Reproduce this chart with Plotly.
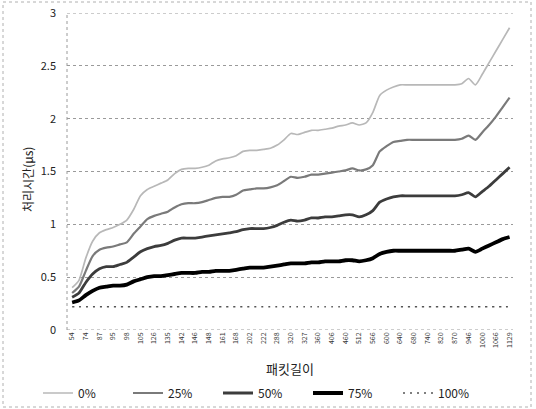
import plotly.graph_objects as go

# Tick labels (packet length) shown on every other sample
tick_labels = ["54", "74", "87", "95", "98", "105", "126", "135", "142", "146", "148",
               "161", "168", "202", "222", "288", "320", "327", "360", "406", "460",
               "512", "566", "600", "640", "680", "740", "820", "870", "946", "1000",
               "1066", "1129"]
n_points = 65
sample_idx = list(range(n_points))

series_names = ["0%", "25%", "50%", "75%", "100%"]

s0 = [0.40, 0.47, 0.68, 0.84, 0.92, 0.95, 0.97, 1.00, 1.04, 1.14, 1.27, 1.33, 1.36,
      1.39, 1.42, 1.48, 1.52, 1.53, 1.53, 1.54, 1.56, 1.60, 1.62, 1.63, 1.65, 1.69,
      1.70, 1.70, 1.71, 1.72, 1.75, 1.80, 1.86, 1.85, 1.87, 1.89, 1.89, 1.90, 1.91,
      1.93, 1.94, 1.96, 1.94, 1.96, 2.06, 2.22, 2.27, 2.30, 2.32, 2.32, 2.32, 2.32,
      2.32, 2.32, 2.32, 2.32, 2.32, 2.33, 2.38, 2.32, 2.42, 2.53, 2.64, 2.75, 2.86]
s25 = [0.35, 0.41, 0.56, 0.70, 0.76, 0.78, 0.79, 0.81, 0.83, 0.91, 0.98, 1.05, 1.08,
       1.10, 1.12, 1.16, 1.19, 1.20, 1.20, 1.21, 1.23, 1.25, 1.26, 1.26, 1.28, 1.32,
       1.33, 1.34, 1.34, 1.35, 1.37, 1.41, 1.45, 1.44, 1.45, 1.47, 1.47, 1.48, 1.49,
       1.50, 1.51, 1.53, 1.51, 1.52, 1.56, 1.69, 1.74, 1.78, 1.79, 1.80, 1.80, 1.80,
       1.80, 1.80, 1.80, 1.80, 1.80, 1.81, 1.84, 1.80, 1.87, 1.94, 2.02, 2.11, 2.20]
s50 = [0.31, 0.35, 0.45, 0.53, 0.58, 0.60, 0.60, 0.62, 0.64, 0.69, 0.74, 0.77, 0.79,
       0.80, 0.82, 0.85, 0.87, 0.87, 0.87, 0.88, 0.89, 0.90, 0.91, 0.92, 0.93, 0.95,
       0.96, 0.96, 0.96, 0.97, 0.99, 1.02, 1.04, 1.03, 1.04, 1.06, 1.06, 1.07, 1.07,
       1.08, 1.09, 1.09, 1.07, 1.09, 1.13, 1.21, 1.24, 1.26, 1.27, 1.27, 1.27, 1.27,
       1.27, 1.27, 1.27, 1.27, 1.27, 1.28, 1.30, 1.26, 1.31, 1.36, 1.42, 1.48, 1.54]
s75 = [0.26, 0.28, 0.33, 0.37, 0.40, 0.41, 0.42, 0.42, 0.43, 0.46, 0.48, 0.50, 0.51,
       0.51, 0.52, 0.53, 0.54, 0.54, 0.54, 0.55, 0.55, 0.56, 0.56, 0.56, 0.57, 0.58,
       0.59, 0.59, 0.59, 0.60, 0.61, 0.62, 0.63, 0.63, 0.63, 0.64, 0.64, 0.65, 0.65,
       0.65, 0.66, 0.66, 0.65, 0.66, 0.68, 0.72, 0.74, 0.75, 0.75, 0.75, 0.75, 0.75,
       0.75, 0.75, 0.75, 0.75, 0.75, 0.76, 0.77, 0.74, 0.77, 0.80, 0.83, 0.86, 0.88]
s100 = [0.22] * n_points

y_ticks = [0, 0.5, 1, 1.5, 2, 2.5, 3]
y_tick_text = ["0", "0.5", "1", "1.5", "2", "2.5", "3"]

FONT = "Noto Sans CJK KR"

styles = [
    dict(color="#b8b8b8", width=1.7, dash="solid"),
    dict(color="#7a7a7a", width=2.2, dash="solid"),
    dict(color="#3c3c3c", width=2.8, dash="solid"),
    dict(color="#000000", width=3.8, dash="solid"),
    dict(color="#555555", width=1.6, dash="2px,5px"),
]

fig = go.Figure()
for name, vals, st in zip(series_names, [s0, s25, s50, s75, s100], styles):
    fig.add_trace(go.Scatter(x=sample_idx, y=vals, mode="lines", name=name,
                             line=dict(color=st["color"], width=st["width"],
                                       dash=st["dash"], shape="spline", smoothing=0.6)))

L, R, T, B = 67, 513, 13, 330
W, H = 536, 409
pw, ph = R - L, B - T

def px(x):
    return (x - L) / pw

def py(y):
    return (B - y) / ph

grid_style = dict(color="#9a9a9a", width=1, dash="dot")

fig.update_layout(
    width=W, height=H,
    margin=dict(l=L, r=W - R, t=T, b=H - B, autoexpand=False),
    paper_bgcolor="white", plot_bgcolor="white",
    font=dict(family=FONT, color="#222222"),
    showlegend=True,
    legend=dict(orientation="h", x=px(38), y=py(393), xanchor="left", yanchor="middle",
                font=dict(size=12, family=FONT, color="#222222"),
                entrywidth=45, entrywidthmode="pixels", bgcolor="rgba(0,0,0,0)",
                tracegroupgap=0),
    xaxis=dict(range=[-0.75, 64.5], tickmode="array",
               tickvals=sample_idx[::2], ticktext=tick_labels,
               tickangle=-90, tickfont=dict(size=7, color="#333333"),
               showgrid=False, zeroline=False, showline=False, ticks=""),
    yaxis=dict(range=[0, 3], tickmode="array", tickvals=y_ticks, ticktext=y_tick_text,
               tickfont=dict(size=11, color="#222222"),
               showgrid=True, gridcolor="#9a9a9a", griddash="dot", gridwidth=1,
               zeroline=False, showline=False, ticks="", ticklabelstandoff=10),
    annotations=[
        dict(text="패킷길이", x=0.5, y=py(368), xref="paper", yref="paper",
             showarrow=False, font=dict(size=13, family=FONT, color="#222222"),
             xanchor="center", yanchor="middle"),
        dict(text="처리시간(μs)", x=px(27), y=py(180), xref="paper", yref="paper",
             showarrow=False, textangle=-90, font=dict(size=12, family=FONT, color="#222222"),
             xanchor="center", yanchor="middle"),
    ],
    shapes=[
        dict(type="line", xref="paper", yref="paper", x0=0, x1=0, y0=0, y1=1,
             line=grid_style),
        dict(type="line", xref="paper", yref="y", x0=0, x1=1, y0=y_ticks[0], y1=y_ticks[0],
             line=grid_style),
        dict(type="line", xref="paper", yref="y", x0=0, x1=1, y0=y_ticks[-1], y1=y_ticks[-1],
             line=grid_style),
        dict(type="rect", xref="paper", yref="paper", x0=px(3), x1=px(531),
             y0=py(407), y1=py(2), line=dict(color="#b0b0b0", width=1, dash="dot")),
    ],
)

fig.write_html("out.html",
               config={"displayModeBar": False},
               post_script="document.body.style.margin='0';document.body.style.overflow='hidden';")
